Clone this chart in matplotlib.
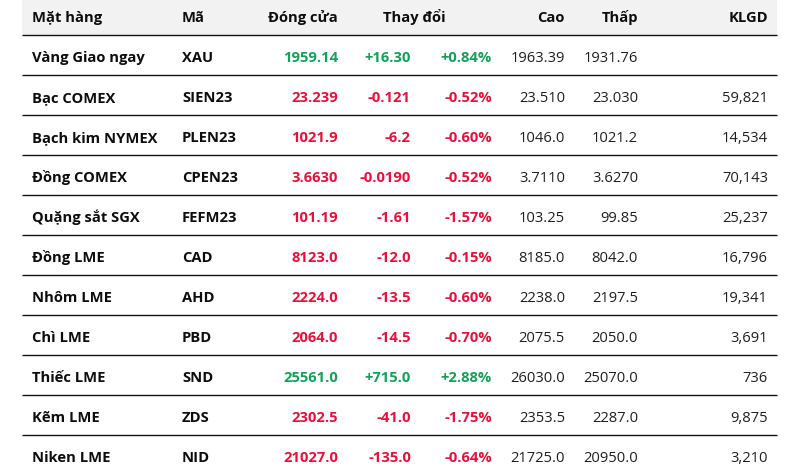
import matplotlib
matplotlib.use("Agg")
import matplotlib.pyplot as plt

names = ["Vàng Giao ngay", "Bạc COMEX", "Bạch kim NYMEX", "Đồng COMEX", "Quặng sắt SGX",
         "Đồng LME", "Nhôm LME", "Chì LME", "Thiếc LME", "Kẽm LME", "Niken LME"]
codes = ["XAU", "SIEN23", "PLEN23", "CPEN23", "FEFM23", "CAD", "AHD", "PBD", "SND", "ZDS", "NID"]
close = ["1959.14", "23.239", "1021.9", "3.6630", "101.19", "8123.0", "2224.0", "2064.0",
         "25561.0", "2302.5", "21027.0"]
change = ["+16.30", "-0.121", "-6.2", "-0.0190", "-1.61", "-12.0", "-13.5", "-14.5",
          "+715.0", "-41.0", "-135.0"]
pct = ["+0.84%", "-0.52%", "-0.60%", "-0.52%", "-1.57%", "-0.15%", "-0.60%", "-0.70%",
       "+2.88%", "-1.75%", "-0.64%"]
high = ["1963.39", "23.510", "1046.0", "3.7110", "103.25", "8185.0", "2238.0", "2075.5",
        "26030.0", "2353.5", "21725.0"]
low = ["1931.76", "23.030", "1021.2", "3.6270", "99.85", "8042.0", "2197.5", "2050.0",
       "25070.0", "2287.0", "20950.0"]
volume = ["", "59,821", "14,534", "70,143", "25,237", "16,796", "19,341", "3,691",
          "736", "9,875", "3,210"]
headers = ["Mặt hàng", "Mã", "Đóng cửa", "Thay đổi", "Cao", "Thấp", "KLGD"]

W, H = 797, 477
fig = plt.figure(figsize=(W / 100, H / 100), dpi=100)
ax = fig.add_axes([0, 0, 1, 1])
ax.set_xlim(0, W)
ax.set_ylim(H, 0)
ax.axis("off")

FONT = ["Open Sans", "DejaVu Sans"]
FS = 10.6
GREEN = "#13a05a"
RED = "#e5103d"
BLACK = "#0d0d0d"
DARK = "#1e1e1e"

left, right = 22, 777
row_h = 40
header_h = 36

ax.add_patch(plt.Rectangle((left, 0), right - left, header_h, color="#f2f2f2", lw=0, zorder=0))

def base(i):
    return 22 + row_h * i

# header
hy = base(0)
ax.text(32, hy, headers[0], ha="left", va="baseline", fontsize=FS, fontweight="bold", family=FONT, color=BLACK)
ax.text(182, hy, headers[1], ha="left", va="baseline", fontsize=FS, fontweight="bold", family=FONT, color=BLACK)
ax.text(338, hy, headers[2], ha="right", va="baseline", fontsize=FS, fontweight="bold", family=FONT, color=BLACK)
ax.text(414, hy, headers[3], ha="center", va="baseline", fontsize=FS, fontweight="bold", family=FONT, color=BLACK)
ax.text(565, hy, headers[4], ha="right", va="baseline", fontsize=FS, fontweight="bold", family=FONT, color=BLACK)
ax.text(638, hy, headers[5], ha="right", va="baseline", fontsize=FS, fontweight="bold", family=FONT, color=BLACK)
ax.text(768, hy, headers[6], ha="right", va="baseline", fontsize=FS, fontweight="bold", family=FONT, color=BLACK)

n = len(names)
for i in range(n):
    y = base(i + 1)
    c = GREEN if change[i].startswith("+") else RED
    ax.text(32, y, names[i], ha="left", va="baseline", fontsize=FS, fontweight="bold", family=FONT, color=BLACK)
    ax.text(182, y, codes[i], ha="left", va="baseline", fontsize=FS, fontweight="bold", family=FONT, color=BLACK)
    ax.text(338, y, close[i], ha="right", va="baseline", fontsize=FS, fontweight="bold", family=FONT, color=c)
    ax.text(411, y, change[i], ha="right", va="baseline", fontsize=FS, fontweight="bold", family=FONT, color=c)
    ax.text(492, y, pct[i], ha="right", va="baseline", fontsize=FS, fontweight="bold", family=FONT, color=c)
    ax.text(565, y, high[i], ha="right", va="baseline", fontsize=FS, family=FONT, color=DARK)
    ax.text(638, y, low[i], ha="right", va="baseline", fontsize=FS, family=FONT, color=DARK)
    ax.text(768, y, volume[i], ha="right", va="baseline", fontsize=FS, family=FONT, color=DARK)

for k in range(n):
    ly = header_h + row_h * k
    ax.plot([left, right], [ly, ly], color="#111111", lw=1.0, solid_capstyle="butt")

fig.savefig("out.png", dpi=100, facecolor="white")
